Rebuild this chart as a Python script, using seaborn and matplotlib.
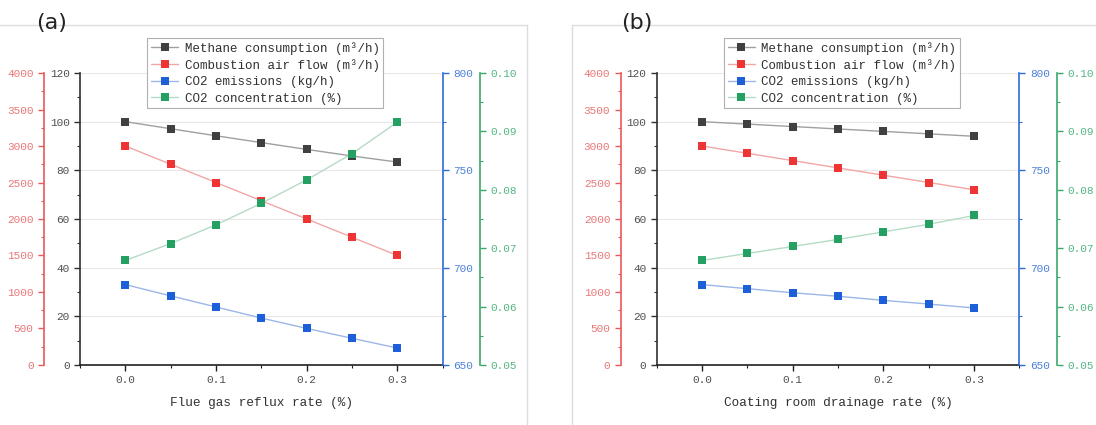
import matplotlib
matplotlib.use("Agg")
import matplotlib.pyplot as plt
from matplotlib.lines import Line2D
from matplotlib.ticker import MultipleLocator, FormatStrFormatter
import seaborn as sns
import pandas as pd

# x values (rate, %)
rates = [0.0, 0.05, 0.10, 0.15, 0.20, 0.25, 0.30]

# panel (a): flue gas reflux rate
methane_a = [100, 97.1, 94.2, 91.4, 88.6, 85.9, 83.4]
air_a = [3000, 2750, 2500, 2250, 2000, 1750, 1500]
co2_emis_a = [691.3, 685.5, 679.8, 674.1, 668.8, 663.7, 658.7]
co2_conc_a = [0.0679, 0.0708, 0.0740, 0.0777, 0.0817, 0.0862, 0.0916]

# panel (b): coating room drainage rate
methane_b = [100, 99, 98, 97, 96, 95, 94]
air_b = [3000, 2900, 2800, 2700, 2600, 2500, 2400]
co2_emis_b = [691.3, 689.2, 687.1, 685.3, 683.2, 681.3, 679.3]
co2_conc_b = [0.0679, 0.0691, 0.0703, 0.0715, 0.0728, 0.0741, 0.0756]

series_labels = ["Methane consumption (m³/h)", "Combustion air flow (m³/h)",
                 "CO2 emissions (kg/h)", "CO2 concentration (%)"]
x_labels = ["Flue gas reflux rate (%)", "Coating room drainage rate (%)"]
panel_tags = ["(a)", "(b)"]

# colours: marker, line, spine, tick label
C_BLACK = ("#404040", "#a0a0a0", "#303030", "#505050")
C_RED = ("#ee3434", "#f2a6a6", "#e85a5a", "#e87878")
C_BLUE = ("#1c5fd8", "#9db6e8", "#2d6bd6", "#4d80d8")
C_GREEN = ("#25a063", "#b4dcc4", "#3aa86a", "#55b583")

sns.set_style("white")
plt.rcParams["font.family"] = ["Liberation Mono", "DejaVu Sans"]


def style_axis(ax, side, color, major, minor, lim, fmt, pos=None):
    ax.set_ylim(*lim)
    ax.yaxis.set_major_locator(MultipleLocator(major))
    ax.yaxis.set_minor_locator(MultipleLocator(minor))
    ax.yaxis.set_major_formatter(FormatStrFormatter(fmt))
    for s in ["top", "bottom", "left", "right"]:
        ax.spines[s].set_visible(False)
    ax.spines[side].set_visible(True)
    ax.spines[side].set_color(color[2])
    ax.spines[side].set_linewidth(1.2)
    if pos is not None:
        ax.spines[side].set_position(("axes", pos))
    if side == "left":
        ax.yaxis.tick_left()
    else:
        ax.yaxis.tick_right()
    ax.tick_params(axis="y", which="major", direction="out", length=4, width=1,
                   color=color[2], labelcolor=color[3], labelsize=8)
    ax.tick_params(axis="y", which="minor", direction="out", length=2.5, width=0.8,
                   color=color[2])
    ax.set_ylabel("")


def draw_line(ax, y, color, label):
    df = pd.DataFrame({"x": rates, "y": y})
    sns.lineplot(data=df, x="x", y="y", ax=ax, color=color[1], linewidth=1,
                 marker="s", markersize=5.5, markerfacecolor=color[0],
                 markeredgewidth=0, label=label, legend=False)
    ax.set_xlabel("")


def draw_panel(left, methane, air, emis, conc, xlabel, tag, tag_x):
    host = fig.add_axes([left, 0.1412, 0.331, 0.687])
    host.patch.set_alpha(0)
    ax_red = host.twinx()
    ax_blue = host.twinx()
    ax_green = host.twinx()

    draw_line(host, methane, C_BLACK, series_labels[0])
    draw_line(ax_red, air, C_RED, series_labels[1])
    draw_line(ax_blue, emis, C_BLUE, series_labels[2])
    draw_line(ax_green, conc, C_GREEN, series_labels[3])

    style_axis(host, "left", C_BLACK, 20, 10, (0, 120), "%d")
    style_axis(ax_red, "left", C_RED, 500, 250, (0, 4000), "%d", pos=-0.0994)
    style_axis(ax_blue, "right", C_BLUE, 50, 25, (650, 800), "%d")
    style_axis(ax_green, "right", C_GREEN, 0.01, 0.005, (0.05, 0.10), "%.2f", pos=1.102)

    host.set_xlim(-0.05, 0.35)
    host.xaxis.set_major_locator(MultipleLocator(0.1))
    host.xaxis.set_minor_locator(MultipleLocator(0.05))
    host.xaxis.set_major_formatter(FormatStrFormatter("%.1f"))
    host.spines["bottom"].set_visible(True)
    host.spines["bottom"].set_color("#202020")
    host.spines["bottom"].set_linewidth(1.2)
    host.tick_params(axis="x", which="major", direction="out", length=4, width=1,
                     color="#202020", labelcolor="#505050", labelsize=8, bottom=True)
    host.tick_params(axis="x", which="minor", direction="out", length=2.5, width=0.8,
                     color="#202020", bottom=True)
    host.set_xlabel(xlabel, fontsize=9.2, color="#303030", labelpad=8)

    host.yaxis.grid(True, color="#e8e8e8", linewidth=0.8)
    host.set_axisbelow(True)

    handles = []
    for ax in [host, ax_red, ax_blue, ax_green]:
        handles += ax.get_lines()
    # legend on the top-most twin so it sits above every line
    leg = ax_green.legend(handles=handles, labels=series_labels, loc="upper left",
                          bbox_to_anchor=(0.185, 1.12), borderaxespad=0,
                          fontsize=9, frameon=True,
                          fancybox=False, framealpha=1, edgecolor="#b0b0b0",
                          borderpad=0.3, labelspacing=0.35, handlelength=2.2,
                          handletextpad=0.5)
    leg.get_frame().set_linewidth(0.8)
    for t in leg.get_texts():
        t.set_color("#303030")

    fig.text(tag_x, 0.945, tag, fontsize=16, ha="center", va="center",
             family="DejaVu Sans", color="#222222")


fig = plt.figure(figsize=(10.96, 4.25), dpi=100)

# light panel frames
top_y = 1 - 25 / 425
fig.add_artist(Line2D([0, 0.481], [top_y, top_y], color="#dcdcdc", lw=1))
fig.add_artist(Line2D([0.481, 0.481], [0, top_y], color="#dcdcdc", lw=1))
fig.add_artist(Line2D([0.522, 1], [top_y, top_y], color="#dcdcdc", lw=1))
fig.add_artist(Line2D([0.522, 0.522], [0, top_y], color="#dcdcdc", lw=1))

draw_panel(0.0730, methane_a, air_a, co2_emis_a, co2_conc_a, x_labels[0], panel_tags[0], 0.047)
draw_panel(0.5992, methane_b, air_b, co2_emis_b, co2_conc_b, x_labels[1], panel_tags[1], 0.581)

fig.savefig("out.png", dpi=100)
